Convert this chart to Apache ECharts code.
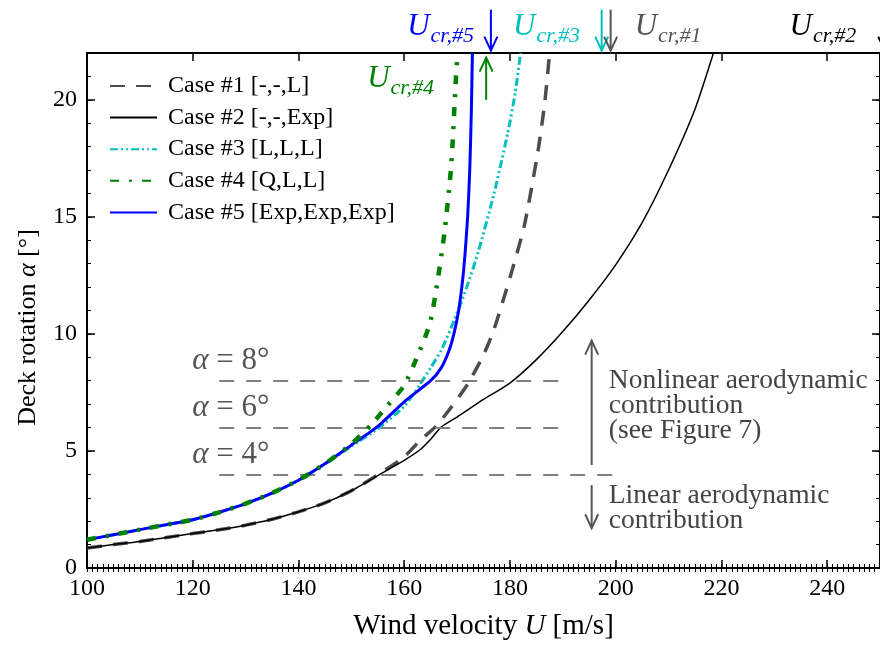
<!DOCTYPE html>
<html>
<head>
<meta charset="utf-8">
<script src="https://cdn.jsdelivr.net/npm/echarts@6/dist/echarts.min.js"></script>
<style>
html, body { margin: 0; padding: 0; background: #fff; }
#chart { width: 880px; height: 646px; }
</style>
</head>
<body>
<div id="chart"></div>
<script>
const serif = '"Liberation Serif", "DejaVu Serif", serif';

// legend names
const caseNames = ['Case #1 [-,-,L]', 'Case #2 [-,-,Exp]', 'Case #3 [L,L,L]', 'Case #4 [Q,L,L]', 'Case #5 [Exp,Exp,Exp]'];

// wind velocity U [m/s] / deck rotation alpha [deg]
const case1U = [100, 105, 110, 115, 120, 125, 130, 135, 140, 145, 150, 155, 160, 163, 166, 169, 172, 175, 177, 180, 182.7, 185.3, 186.6, 187.5];
const case1A = [0.85, 1.0, 1.13, 1.3, 1.47, 1.63, 1.83, 2.08, 2.4, 2.78, 3.3, 3.98, 4.75, 5.45, 6.05, 6.9, 7.85, 9.1, 10.2, 12.4, 14.6, 17.8, 19.9, 22];

const case2U = [100, 105, 110, 115, 120, 125, 130, 135, 140, 145, 150, 155, 160, 163, 165, 167, 170, 175, 180, 185, 190, 195, 200, 205, 210, 215, 218.5];
const case2A = [0.85, 1.0, 1.13, 1.3, 1.47, 1.63, 1.83, 2.08, 2.4, 2.78, 3.3, 3.95, 4.6, 5.05, 5.5, 6.02, 6.45, 7.2, 7.9, 8.9, 10.1, 11.45, 12.95, 14.75, 17.0, 19.6, 22];

const case3U = [100, 105, 110, 115, 120, 125, 130, 135, 140, 145, 150, 155, 160, 163, 165, 167, 169.5, 172, 174, 177, 179.6, 181, 182];
const case3A = [1.21, 1.42, 1.64, 1.85, 2.06, 2.38, 2.75, 3.2, 3.75, 4.45, 5.2, 5.95, 6.9, 7.85, 8.55, 9.3, 10.6, 12.1, 13.5, 16.0, 18.6, 20.3, 22];

const case4U = [100, 105, 110, 115, 120, 125, 130, 135, 140, 145, 150, 153.7, 156.3, 160, 162.6, 164.8, 166, 167.6, 168.9, 169.8, 170.1];
const case4A = [1.21, 1.42, 1.64, 1.85, 2.06, 2.38, 2.75, 3.2, 3.75, 4.45, 5.3, 6.1, 6.8, 7.8, 9.1, 10.4, 11.8, 14.3, 17.2, 21.0, 22];

const case5U = [100, 105, 110, 115, 120, 125, 130, 135, 140, 145, 150, 155, 160, 165, 167, 168.5, 169.5, 170.3, 171, 171.5, 172, 172.4, 172.7, 172.9];
const case5A = [1.21, 1.42, 1.64, 1.85, 2.06, 2.38, 2.75, 3.2, 3.75, 4.45, 5.25, 6.05, 7.1, 8.0, 8.55, 9.3, 10.1, 11.0, 12.2, 13.4, 15.0, 17.0, 19.5, 22];

// reference levels alpha = 4, 6, 8 deg and where their dashed lines run
const levelA = [8, 6, 4];
const levelStartU = [125, 125, 125];
const levelEndU = [190.5, 190.5, 200.5];

// critical velocities marked above the plot
const crLabels = ['cr,#5', 'cr,#3', 'cr,#1', 'cr,#2', 'cr,#4'];
const crArrowU = [176.4, 197.35, 199.05, 250.9, 175.5];
const crColors = ['#0000ff', '#00bfbf', '#555555', '#000000', '#008000'];

const pairs = (us, as) => us.map((u, i) => [u, as[i]]);

function lineSeries(name, us, as, color, width, dash, z) {
    return {
        name: name,
        type: 'line',
        xAxisIndex: 0,
        yAxisIndex: 0,
        data: pairs(us, as),
        symbol: 'none',
        showSymbol: false,
        smooth: 0.2,
        lineStyle: { color: color, width: width, type: dash },
        itemStyle: { color: color },
        emphasis: { disabled: true },
        z: z
    };
}

const series = [
    lineSeries(caseNames[0], case1U, case1A, '#4d4d4d', 3.5, [15, 11], 2),
    lineSeries(caseNames[1], case2U, case2A, '#000000', 1.5, 'solid', 3),
    lineSeries(caseNames[2], case3U, case3A, '#00bfbf', 3, [8, 3, 2, 3, 2, 3], 4),
    lineSeries(caseNames[3], case4U, case4A, '#008000', 4.5, [9, 10, 3, 10], 6),
    lineSeries(caseNames[4], case5U, case5A, '#0000ff', 3, 'solid', 5)
];

series[1].markLine = {
    silent: true,
    animation: false,
    symbol: ['none', 'none'],
    label: { show: false },
    emphasis: { disabled: true },
    lineStyle: { color: '#808080', width: 2, type: [15, 12] },
    data: levelA.map((a, i) => [{ coord: [levelStartU[i], a] }, { coord: [levelEndU[i], a] }])
};

const majorTick = { show: true, inside: true, length: 8, lineStyle: { color: '#000', width: 1.5 } };
const minorTick = { show: true, inside: true, length: 4, lineStyle: { color: '#000', width: 1 } };
const spine = { show: true, onZero: false, lineStyle: { color: '#000', width: 2 } };

function xAx(pos, step, major, labels) {
    return {
        type: 'value', position: pos, min: 100, max: 250, interval: step,
        axisLine: major ? spine : { show: false },
        axisTick: major ? majorTick : minorTick,
        axisLabel: labels ? { fontFamily: serif, fontSize: 24, color: '#000', margin: 9, showMaxLabel: false } : { show: false },
        splitLine: { show: false }
    };
}
function yAx(pos, step, major, labels) {
    return {
        type: 'value', position: pos, min: 0, max: 22, interval: step,
        axisLine: major ? spine : { show: false },
        axisTick: major ? majorTick : minorTick,
        axisLabel: labels ? { fontFamily: serif, fontSize: 24, color: '#000', margin: 10, showMaxLabel: false } : { show: false },
        splitLine: { show: false }
    };
}

const xAxes = [xAx('bottom', 20, true, true), xAx('top', 20, true, false), xAx('bottom', 1, false, false), xAx('top', 1, false, false)];
xAxes[0].name = 'Wind velocity {i|U} [m/s]';
xAxes[0].nameLocation = 'middle';
xAxes[0].nameGap = 44;
xAxes[0].nameTextStyle = { fontFamily: serif, fontSize: 29, color: '#000', rich: { i: { fontFamily: serif, fontSize: 29, fontStyle: 'italic' } } };

const yAxes = [yAx('left', 5, true, true), yAx('right', 5, true, false), yAx('left', 1, false, false), yAx('right', 1, false, false)];
yAxes[0].name = 'Deck rotation {i|α} [°]';
yAxes[0].nameLocation = 'middle';
yAxes[0].nameGap = 46;
yAxes[0].nameTextStyle = { fontFamily: serif, fontSize: 26, color: '#000', padding: [0, 34, 0, 0], rich: { i: { fontFamily: serif, fontSize: 26, fontStyle: 'italic' } } };

const option = {
    animation: false,
    backgroundColor: '#fff',
    grid: { left: 87, right: -1, top: 53, bottom: 76, containLabel: false },
    legend: {
        data: caseNames,
        orient: 'vertical',
        left: 104,
        top: 69,
        itemWidth: 47,
        itemHeight: 12,
        itemGap: 7.6,
        selectedMode: false,
        itemStyle: { opacity: 0 },
        textStyle: { fontFamily: serif, fontSize: 24, color: '#000', lineHeight: 24, padding: [0, 0, 0, 6] }
    },
    xAxis: xAxes,
    yAxis: yAxes,
    series: series
};

const chart = echarts.init(document.getElementById('chart'));
chart.setOption(option);

// annotations are placed in data space, converted through the chart's own axes
const toPx = (u, a) => chart.convertToPixel({ seriesIndex: 1 }, [u, a]);

function arrow(u, aTail, aHead, color, width) {
    const t = toPx(u, aTail);
    const h = toPx(u, aHead);
    const dir = h[1] > t[1] ? 1 : -1;
    return [
        { type: 'line', silent: true, z: 20, shape: { x1: t[0], y1: t[1], x2: h[0], y2: h[1] }, style: { stroke: color, lineWidth: width } },
        { type: 'polyline', silent: true, z: 20, shape: { points: [[h[0] - 6.5, h[1] - dir * 14], [h[0], h[1]], [h[0] + 6.5, h[1] - dir * 14]] }, style: { stroke: color, lineWidth: width, fill: null } }
    ];
}

function crText(sub, u, a, color, align) {
    const p = toPx(u, a);
    return {
        type: 'text', silent: true, z: 20, x: p[0], y: p[1],
        style: {
            text: '{u|U}{s|' + sub + '}',
            align: align, verticalAlign: 'middle', fill: color,
            rich: {
                u: { fontFamily: serif, fontSize: 31, fontStyle: 'italic', fill: color, verticalAlign: 'top' },
                s: { fontFamily: serif, fontSize: 22, fontStyle: 'italic', fill: color, padding: [14, 0, 0, 1], verticalAlign: 'top' }
            }
        }
    };
}

function plainText(txt, u, a, color, size, lh) {
    const p = toPx(u, a);
    return {
        type: 'text', silent: true, z: 20, x: p[0], y: p[1],
        style: {
            text: txt, align: 'left', verticalAlign: 'middle', fill: color,
            fontFamily: serif, fontSize: size, lineHeight: lh,
            rich: { i: { fontFamily: serif, fontSize: size, fontStyle: 'italic', fill: color } }
        }
    };
}

const graphics = [];
// critical velocity arrows: top four point down onto the frame, #4 points up
for (let k = 0; k < 4; k++) {
    graphics.push(...arrow(crArrowU[k], 23.85, 22.1, crColors[k], 2));
}
graphics.push(...arrow(crArrowU[4], 20.0, 21.8, crColors[4], 2));
graphics.push(crText(crLabels[0], 173.2, 23.0, crColors[0], 'right'));
graphics.push(crText(crLabels[1], 180.6, 23.0, crColors[1], 'left'));
graphics.push(crText(crLabels[2], 203.6, 23.0, crColors[2], 'left'));
graphics.push(crText(crLabels[3], 232.9, 23.0, crColors[3], 'left'));
graphics.push(crText(crLabels[4], 153.0, 20.8, crColors[4], 'left'));

// alpha level labels
levelA.forEach((a) => {
    graphics.push(plainText('{i|α} = ' + a + '°', 119.9, a + 0.85, '#555555', 31, 31));
});

// linear / nonlinear regions
graphics.push(...arrow(195.46, 4.4, 9.71, '#555555', 2));
graphics.push(...arrow(195.46, 3.54, 1.7, '#555555', 2));
graphics.push(plainText('Nonlinear aerodynamic\ncontribution\n(see Figure 7)', 198.7, 6.93, '#444444', 27.5, 25));
graphics.push(plainText('Linear aerodynamic\ncontribution', 198.7, 2.54, '#444444', 27.5, 25));

chart.setOption({ graphic: graphics });
</script>
</body>
</html>
